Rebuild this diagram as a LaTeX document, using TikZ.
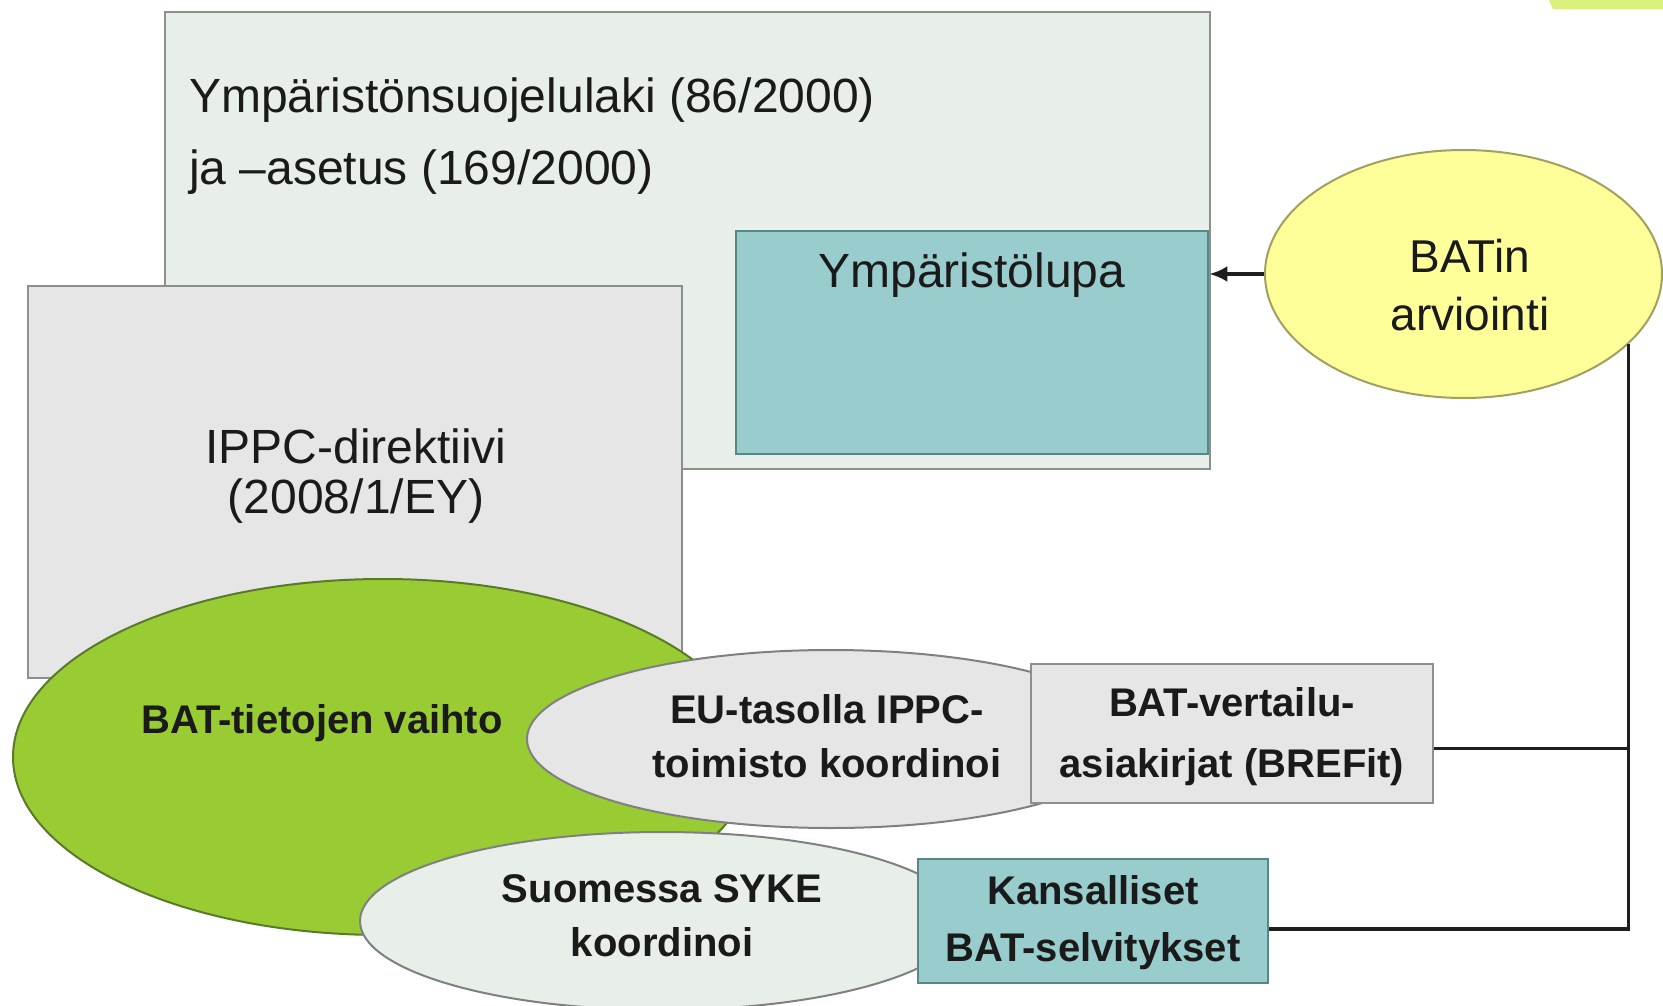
\documentclass[tikz,border=0pt]{standalone}
\usepackage{fontspec}
\setmainfont{Liberation Sans}
\usetikzlibrary{shapes.geometric,arrows.meta}
\definecolor{lawfill}{HTML}{E8EEE8}
\definecolor{lawline}{HTML}{8A928A}
\definecolor{tealfill}{HTML}{99CCCC}
\definecolor{tealline}{HTML}{5A8686}
\definecolor{greyfill}{HTML}{E6E6E6}
\definecolor{greyline}{HTML}{8E8E8E}
\definecolor{greenfill}{HTML}{99CC33}
\definecolor{greenline}{HTML}{5A7A2A}
\definecolor{yellowfill}{HTML}{FFFF99}
\definecolor{yellowline}{HTML}{A0A060}
\definecolor{patchfill}{HTML}{D9F07A}
\definecolor{ink}{HTML}{1A1A1A}
\definecolor{wire}{HTML}{1E1E1E}
\begin{document}
\begin{tikzpicture}[x=1pt,y=-1pt,
  box/.style={draw, line width=2.4pt, inner sep=0pt, anchor=north west},
  oval/.style={ellipse, draw, line width=2pt, inner sep=0pt},
  lbl/.style={inner sep=0pt, align=center, text=ink},
  big/.style={font=\fontsize{48}{#1}\selectfont},
  bld/.style={font=\fontsize{40}{#1}\selectfont\bfseries},
  conn/.style={line width=3.5pt, draw=wire}]
\fill[white] (0,0) rectangle (1663,1006);
\useasboundingbox (0,0) rectangle (1663,1006);
\fill[patchfill] (1549,0) -- (1553,9) -- (1663,9) -- (1663,0) -- cycle;

% law box
\node[box, fill=lawfill, draw=lawline, minimum width=1045pt, minimum height=457pt] (law) at (164,11) {};
\node[lbl, anchor=west, align=left, big=72] (lawtext) at (189,136.5)
  {Ympäristönsuojelulaki (86/2000)\\ja –asetus (169/2000)};

% permit box
\node[box, fill=tealfill, draw=tealline, minimum width=472pt, minimum height=223pt] (lupa) at (735,230) {};
\node[lbl, anchor=base, big=58] (lupatext) at (972,287) {Ympäristölupa};

% IPPC box
\node[box, fill=greyfill, draw=greyline, minimum width=654pt, minimum height=392pt] (ippc) at (27,285) {};
\node[lbl, big=50] (ippctext) at (356,476) {IPPC-direktiivi\\(2008/1/EY)};

% green ellipse
\node[oval, fill=greenfill, draw=greenline, minimum width=740pt, minimum height=356pt] (vaihto) at (383,757) {};
\node[lbl, anchor=base, bld=48] (vaihtotext) at (322,733) {BAT-tietojen vaihto};

% EU ellipse
\node[oval, fill=greyfill, draw=gray, minimum width=608pt, minimum height=178pt] (eu) at (831,739) {};
\node[lbl, bld=54] (eutext) at (827,736) {EU-tasolla IPPC-\\toimisto koordinoi};

% BREF box
\node[box, fill=greyfill, draw=greyline, minimum width=402pt, minimum height=139pt] (bref) at (1030,663) {};
\node[lbl, bld=61] (breftext) at (1232,737) {BAT-vertailu-\\asiakirjat (BREFit)};

% SYKE ellipse
\node[oval, fill=lawfill, draw=gray, minimum width=604pt, minimum height=178pt] (syke) at (662,921) {};
\node[lbl, bld=54] (syketext) at (662,916) {Suomessa SYKE\\koordinoi};

% national box
\node[box, fill=tealfill, draw=tealline, minimum width=350pt, minimum height=124pt] (kans) at (917,858) {};
\node[lbl, bld=57] (kanstext) at (1093,923) {Kansalliset\\BAT-selvitykset};

% BAT assessment ellipse
\node[oval, fill=yellowfill, draw=yellowline, minimum width=397pt, minimum height=248pt] (bat) at (1463.5,274) {};
\node[lbl, font=\fontsize{46}{58}\selectfont] (battext) at (1470,285.5) {BATin\\arviointi};

% connectors
\draw[conn, -{Latex[length=18pt,width=16pt]}] (bat.west) -- (bat.west -| lupa.east);
\draw[conn] (bat.-23.6) |- ([yshift=-8pt]kans.east);
\draw[conn] ([yshift=-15pt]bref.east) -- ([yshift=-15pt]bref.east -| bat.-23.6);
\end{tikzpicture}
\end{document}
